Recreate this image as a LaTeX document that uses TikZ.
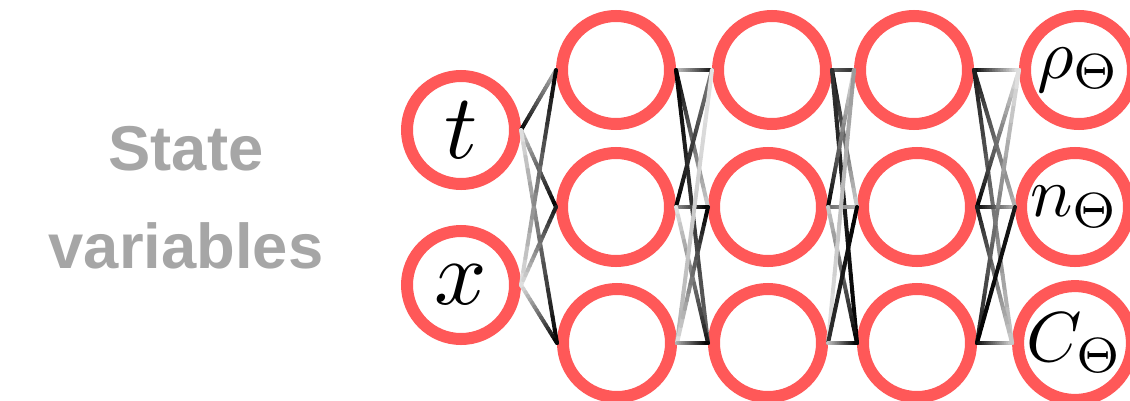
\documentclass[tikz,border=0pt]{standalone}
\usepackage{graphicx}
\usepackage{fontspec}
\newfontfamily\labelfont{Liberation Sans}
\usepackage{tikz}
\usetikzlibrary{calc}
\usepackage{xcolor}

\definecolor{ringred}{RGB}{255,88,88}
\definecolor{labelgray}{RGB}{166,166,166}

% one connector, shaded from gray level #3 (at #1) to gray level #4 (at #2)
\newcommand{\wire}[4]{%
  \foreach \k in {0,...,15}{%
    \pgfmathsetmacro{\wa}{\k/16}%
    \pgfmathsetmacro{\wb}{(\k+1)/16}%
    \pgfmathsetmacro{\wc}{#3+(#4-#3)*(\k+0.5)/16}%
    \draw[link, black!\wc] ($(#1.east)!\wa!(#2.west)$) -- ($(#1.east)!\wb!(#2.west)$);
  }}
\newcommand{\bigmath}[1]{\scalebox{6.9}{\normalsize$#1$}}
\newcommand{\midmath}[1]{\scalebox{5.3}{\normalsize$#1$}}

\begin{document}
\begin{tikzpicture}[
  x=0.75pt, y=-0.75pt,
  neuron/.style={circle, draw=ringred, line width=9pt, minimum size=81pt,
                 inner sep=0pt, fill=white},
  link/.style={line width=3pt, line cap=round}
]
\useasboundingbox (0,0) rectangle (1130,400);

\node[font=\labelfont\bfseries\fontsize{47.5}{73.5}\selectfont, text=labelgray,
      align=center] (title) at (186,198) {State\\variables};

% input layer
\node[neuron] (in1) at (461,130) {\bigmath{t}};
\node[neuron] (in2) at (461,285) {\bigmath{x}};

% hidden layers
\node[neuron] (h1a) at (616,70) {};
\node[neuron] (h1b) at (616,207) {};
\node[neuron] (h1c) at (617,343) {};
\node[neuron] (h2a) at (772,70) {};
\node[neuron] (h2b) at (768,207) {};
\node[neuron] (h2c) at (768,343) {};
\node[neuron] (h3a) at (914,70) {};
\node[neuron] (h3b) at (917,207) {};
\node[neuron] (h3c) at (917,343) {};

% output layer
\node[neuron] (o1) at (1079,70) {\midmath{\rho_\Theta}};
\node[neuron] (o2) at (1075,207) {\midmath{n_\Theta}};
\node[neuron] (o3) at (1075,343) {\midmath{C_\Theta}};

% input -> first hidden
\wire{in1}{h1a}{100}{30}
\wire{in1}{h1b}{20}{100}
\wire{in1}{h1c}{10}{100}
\wire{in2}{h1a}{10}{100}
\wire{in2}{h1b}{10}{90}
\wire{in2}{h1c}{10}{100}

% first -> second hidden
\wire{h1a}{h2a}{20}{90}
\wire{h1a}{h2b}{100}{20}
\wire{h1a}{h2c}{100}{60}
\wire{h1b}{h2a}{100}{50}
\wire{h1b}{h2b}{40}{100}
\wire{h1b}{h2c}{10}{90}
\wire{h1c}{h2a}{30}{10}
\wire{h1c}{h2b}{10}{100}
\wire{h1c}{h2c}{30}{100}

% second -> third hidden
\wire{h2a}{h3a}{60}{80}
\wire{h2a}{h3b}{100}{20}
\wire{h2a}{h3c}{80}{100}
\wire{h2b}{h3a}{100}{10}
\wire{h2b}{h3b}{60}{30}
\wire{h2b}{h3c}{20}{100}
\wire{h2c}{h3a}{10}{40}
\wire{h2c}{h3b}{80}{100}
\wire{h2c}{h3c}{20}{100}

% third hidden -> output
\wire{h3a}{o1}{100}{10}
\wire{h3a}{o2}{90}{30}
\wire{h3a}{o3}{90}{20}
\wire{h3b}{o1}{100}{10}
\wire{h3b}{o2}{100}{30}
\wire{h3b}{o3}{90}{20}
\wire{h3c}{o1}{90}{10}
\wire{h3c}{o2}{100}{90}
\wire{h3c}{o3}{100}{20}
\end{tikzpicture}
\end{document}
